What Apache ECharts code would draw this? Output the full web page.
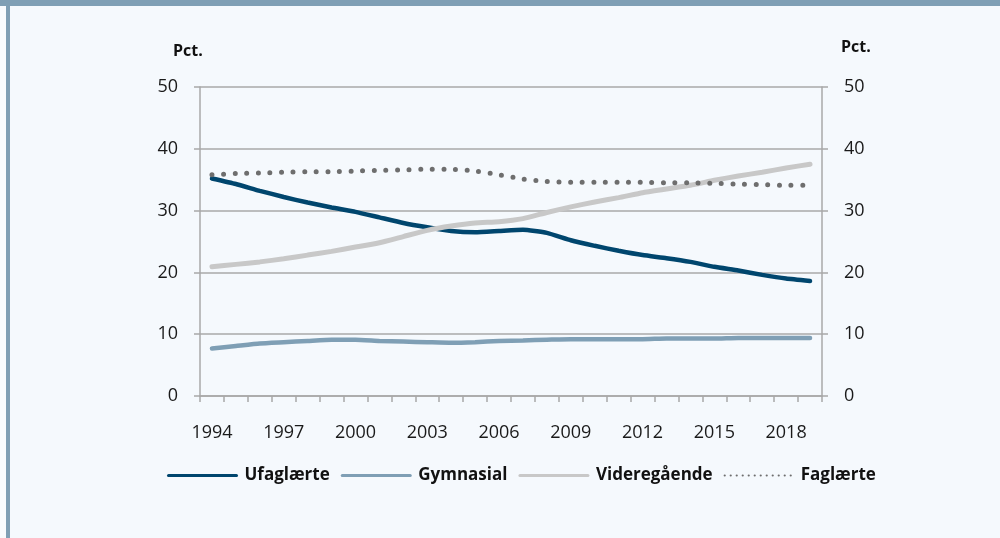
<!DOCTYPE html>
<html>
<head>
<meta charset="utf-8">
<script src="https://cdn.jsdelivr.net/npm/echarts@6/dist/echarts.min.js"></script>
<style>
html,body{margin:0;padding:0;background:#f5f9fd;}
#c{width:1000px;height:538px;}
</style>
</head>
<body>
<div id="c"></div>
<script>
const years = ['1994','1995','1996','1997','1998','1999','2000','2001','2002','2003','2004','2005','2006','2007','2008','2009','2010','2011','2012','2013','2014','2015','2016','2017','2018','2019'];
const ufaglaerte = [35.2,34.3,33.2,32.2,31.3,30.5,29.8,28.9,28.0,27.3,26.7,26.5,26.7,26.9,26.4,25.2,24.3,23.5,22.8,22.3,21.7,20.9,20.3,19.6,19.0,18.6];
const gymnasial = [7.7,8.1,8.5,8.7,8.9,9.1,9.1,8.9,8.8,8.7,8.6,8.7,8.9,9.0,9.1,9.2,9.2,9.2,9.2,9.3,9.3,9.3,9.4,9.4,9.4,9.4];
const videregaaende = [20.9,21.3,21.7,22.2,22.8,23.4,24.1,24.8,25.8,26.8,27.5,28.0,28.2,28.7,29.7,30.6,31.4,32.1,32.9,33.5,34.1,34.9,35.6,36.2,36.9,37.5];
const faglaerte = [35.8,36.0,36.1,36.2,36.3,36.3,36.4,36.5,36.6,36.7,36.7,36.4,35.8,35.1,34.7,34.6,34.6,34.6,34.6,34.5,34.5,34.4,34.3,34.2,34.1,34.1];
const seriesNames = ['Ufaglærte','Gymnasial','Videregående','Faglærte'];
const unitLabel = 'Pct.';

const FONT = '"Open Sans", "Noto Sans", sans-serif';
const chart = echarts.init(document.getElementById('c'), null, {renderer:'canvas'});
const gridColor = '#a8a8a8';
const yAxisCommon = {
  type:'value', min:0, max:50, interval:10,
  axisLine:{show:true, lineStyle:{color:gridColor, width:1.5}},
  axisTick:{show:true, length:6, lineStyle:{color:gridColor, width:1.5}},
  axisLabel:{color:'#1a1a1a', fontSize:18, fontFamily:FONT, margin:22}
};
chart.setOption({
  backgroundColor:'#f5f9fd',
  animation:false,
  textStyle:{fontFamily:FONT},
  graphic:[
    {type:'rect', shape:{x:0,y:0,width:1000,height:6}, style:{fill:'#7f9fb5'}, z:100},
    {type:'rect', shape:{x:6,y:0,width:4,height:538}, style:{fill:'#7f9fb5'}, z:100},
    {type:'rect', shape:{x:0,y:6,width:6,height:532}, style:{fill:'#f8fbfe'}, z:100},
    {type:'text', left:173, top:43, style:{text:unitLabel, fontSize:16, fontWeight:'bold', fontFamily:FONT, fill:'#111'}},
    {type:'text', left:841, top:39, style:{text:unitLabel, fontSize:16, fontWeight:'bold', fontFamily:FONT, fill:'#111'}}
  ],
  grid:{left:200, right:178, top:87, bottom:142},
  legend:{
    left:167, top:467, padding:0, itemWidth:68, itemHeight:14, itemGap:11,
    itemStyle:{opacity:0},
    lineStyle:{width:3},
    textStyle:{fontSize:17, fontWeight:'bold', color:'#111', fontFamily:FONT, padding:[0,0,0,3]},
    data:[
      {name:seriesNames[0]},
      {name:seriesNames[1]},
      {name:seriesNames[2]},
      {name:seriesNames[3], lineStyle:{width:2.2, type:[0,6], cap:'round'}}
    ]
  },
  xAxis:{
    type:'category', data:years, boundaryGap:true,
    axisLine:{lineStyle:{color:gridColor, width:1.5}},
    axisTick:{show:true, interval:0, length:6, lineStyle:{color:gridColor, width:1.5}},
    axisLabel:{interval:2, color:'#1a1a1a', fontSize:18, fontFamily:FONT, margin:28}
  },
  yAxis:[
    Object.assign({}, yAxisCommon, {position:'left', splitLine:{show:true, lineStyle:{color:gridColor, width:1.5}}}),
    Object.assign({}, yAxisCommon, {position:'right', splitLine:{show:false}})
  ],
  series:[
    {name:seriesNames[0], type:'line', data:ufaglaerte, smooth:0.15, symbol:'none', color:'#00466e',
     lineStyle:{width:4.5, color:'#00466e', cap:'round'}},
    {name:seriesNames[1], type:'line', data:gymnasial, smooth:0.15, symbol:'none', color:'#7f9fb5',
     lineStyle:{width:4.5, color:'#7f9fb5', cap:'round'}},
    {name:seriesNames[2], type:'line', data:videregaaende, smooth:0.15, symbol:'none', color:'#c8c8c8',
     lineStyle:{width:5, color:'#c8c8c8', cap:'round'}},
    {name:seriesNames[3], type:'line', data:faglaerte, smooth:0.15, symbol:'none', color:'#6e6e6e',
     lineStyle:{width:5, color:'#6e6e6e', type:[0,11.6], cap:'round'}}
  ]
});
</script>
</body>
</html>
